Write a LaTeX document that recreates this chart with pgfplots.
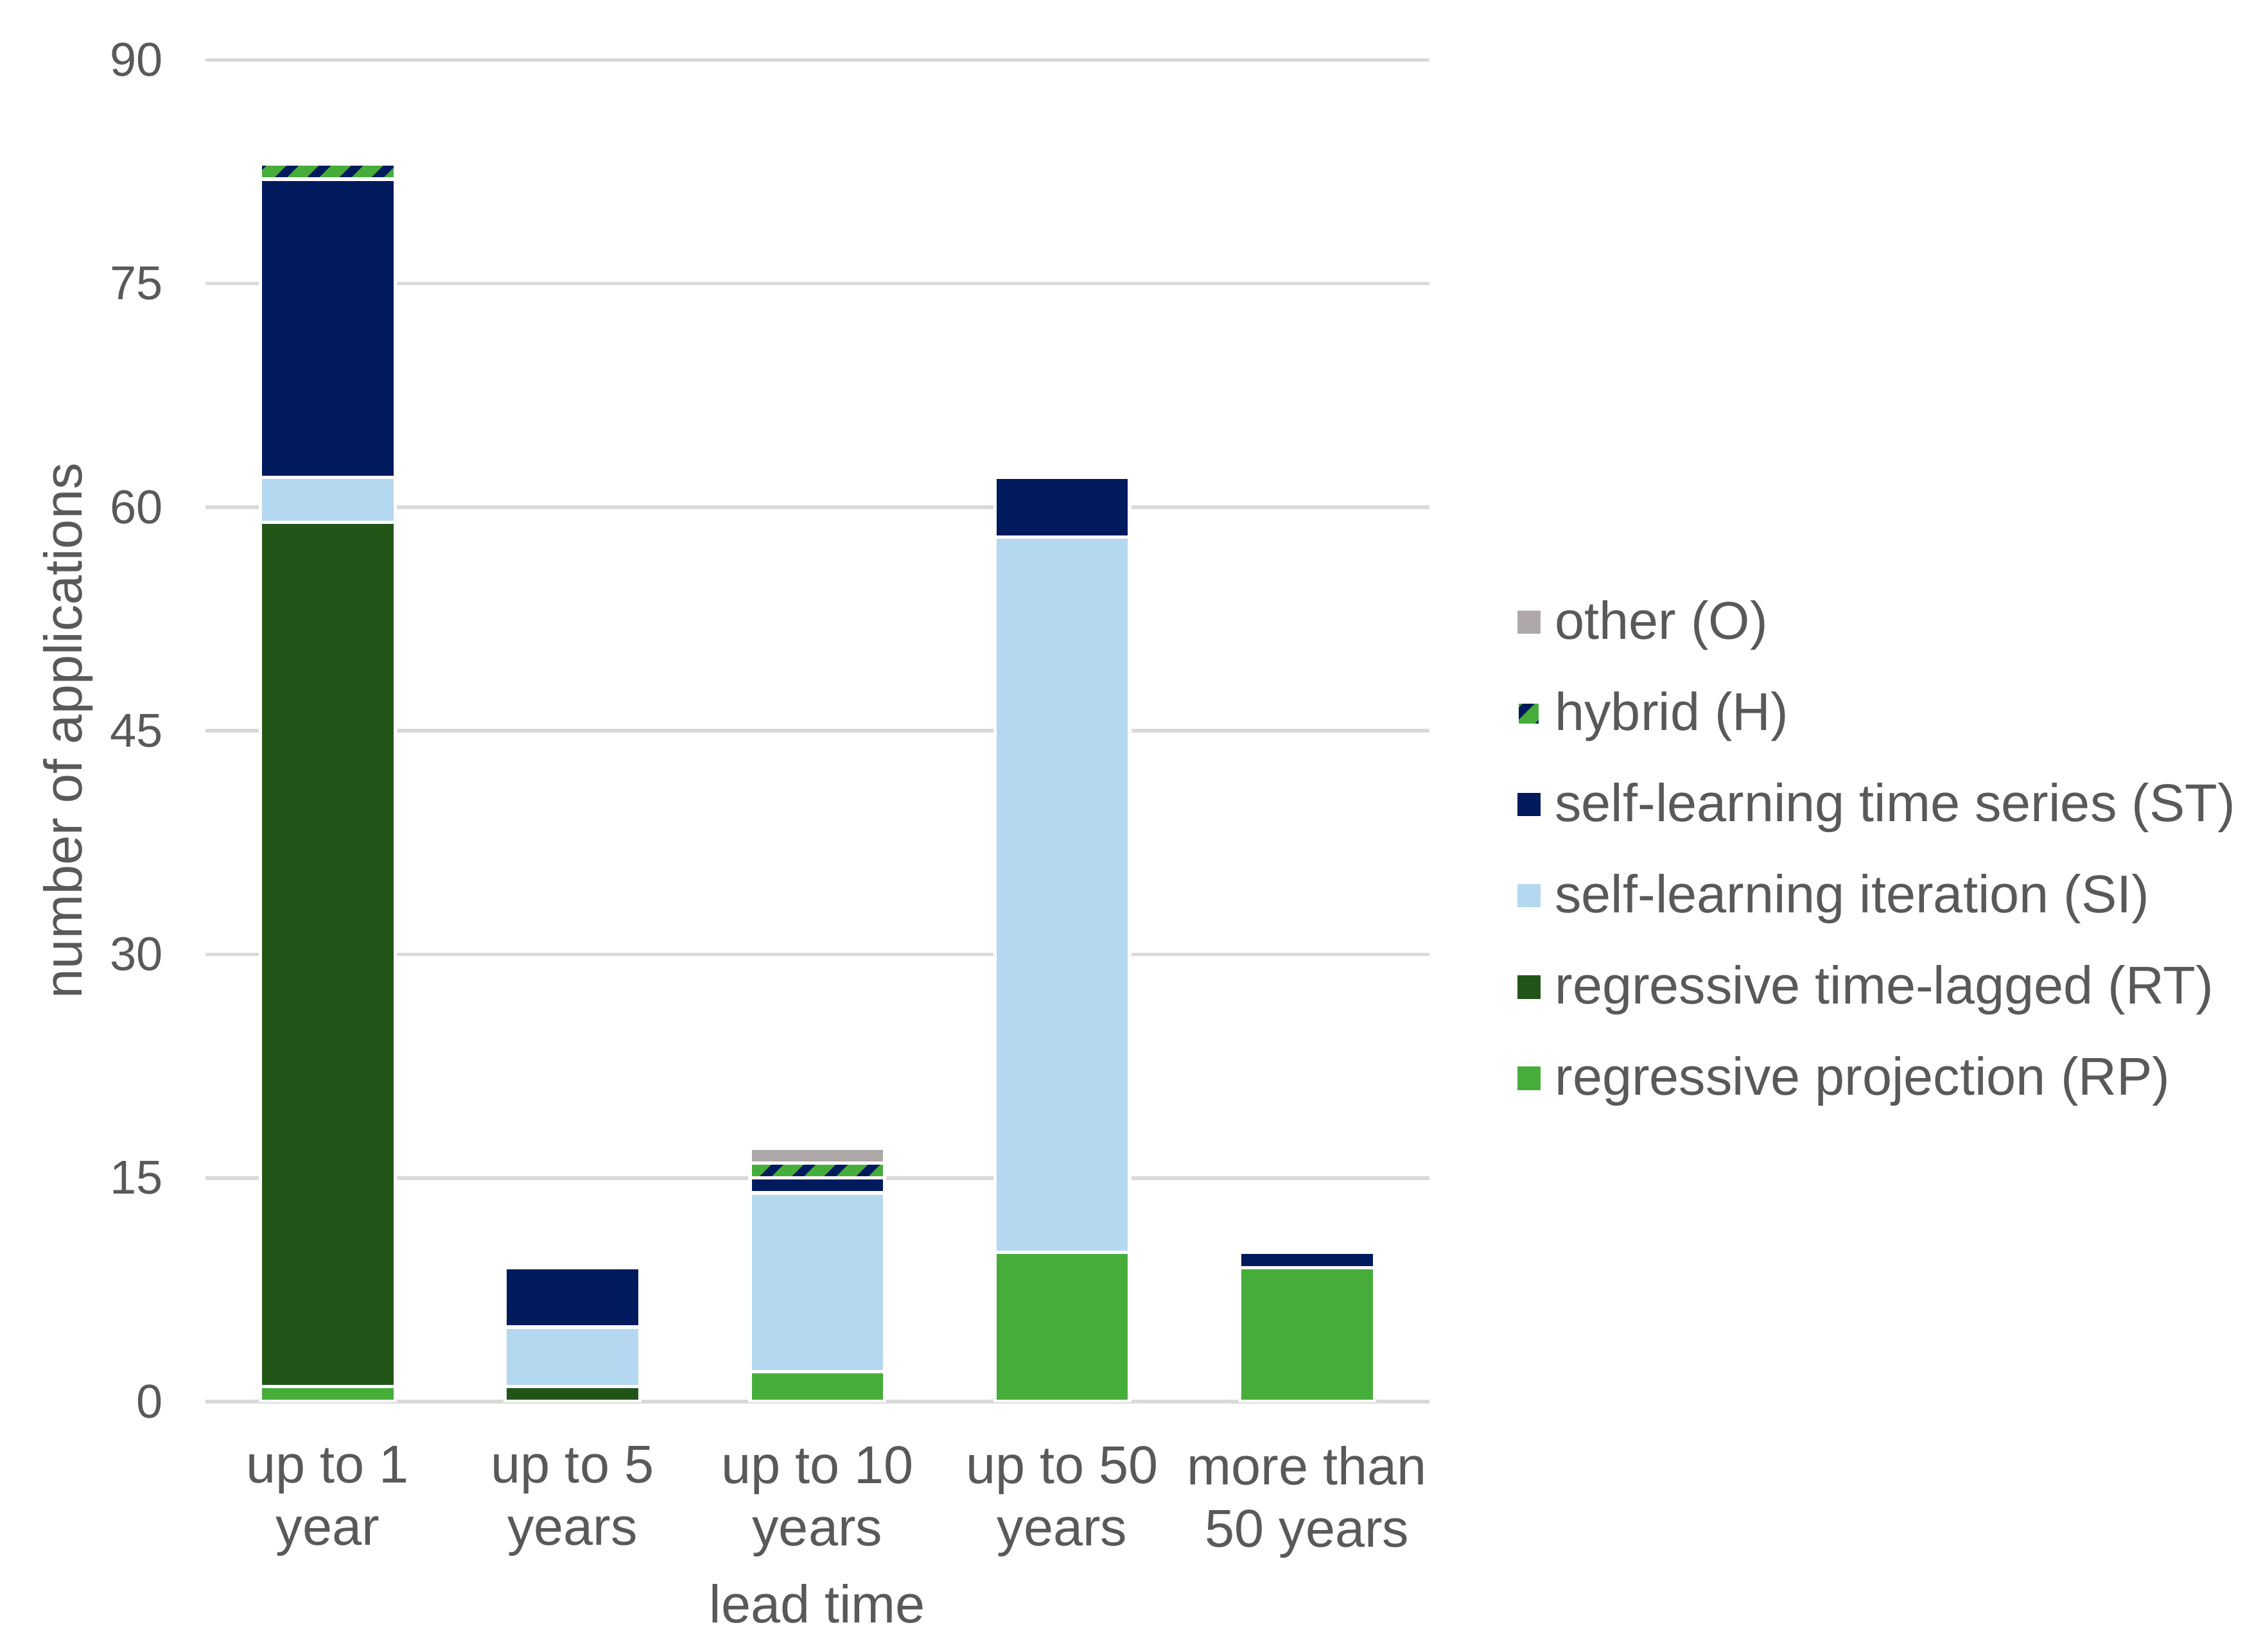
\documentclass[border=0pt]{standalone}
\usepackage{fontspec}
\setmainfont{Liberation Sans}
\usepackage{pgfplots}
\usepackage{pgfplotstable}
\pgfplotsset{compat=1.18}
\usetikzlibrary{patterns.meta}

\definecolor{rpgreen}{HTML}{47AD3A}
\definecolor{rtgreen}{HTML}{215518}
\definecolor{siblue}{HTML}{B4D8EF}
\definecolor{stnavy}{HTML}{001A5E}
\definecolor{ogray}{HTML}{AEA9A8}
\definecolor{txtgray}{HTML}{595959}
\definecolor{gridgray}{HTML}{D9D9D9}

% lead time classes at x = 0..4
\pgfplotstableread{
x RP RT SI ST H O
0 1  58 3  20 1 0
1 0  1  4  4  0 0
2 2  0  12 1  1 1
3 10 0  48 4  0 0
4 9  0  0  1  0 0
}\apps

\begin{document}
\begin{tikzpicture}
\begin{axis}[
  at={(0,0)}, anchor=south west,
  scale only axis, width=257.6pt, height=282.4pt,
  xmin=-0.5, xmax=4.5, ymin=0, ymax=90,
  ybar stacked, bar width=0.55,
  xtick={0,1,2,3,4},
  xticklabels={{up to 1\\year},{up to 5\\years},{up to 10\\years},{up to 50\\years},{more than\\50 years}},
  ytick={0,15,...,90},
  ymajorgrids, grid style={line width=0.75pt, gridgray},
  axis line style={draw=none}, tick style={draw=none},
  /pgf/number format/assume math mode=true,
  xticklabel style={align=center, inner sep=0pt, anchor=north, yshift=-9.2pt,
    font=\fontsize{11.2}{13.1}\selectfont, text=txtgray},
  yticklabel style={inner sep=0pt, anchor=east, xshift=-8.7pt,
    font=\fontsize{10}{12}\selectfont, text=txtgray},
  xlabel={lead time},
  xlabel style={at={(axis description cs:0.5,0)}, anchor=base, yshift=-46.5pt,
    font=\fontsize{11.2}{13}\selectfont, text=txtgray},
  ylabel={number of applications},
  ylabel style={at={(axis description cs:-0.1122,0.5)}, anchor=center,
    font=\fontsize{11.2}{13}\selectfont, text=txtgray},
  every axis plot/.append style={draw=white, line width=0.7pt},
  legend image code/.code={
    \draw[#1, draw=none] (0pt,1.1pt) rectangle (4.9pt,6pt);
    \path (7.6pt,0pt);
  },
  reverse legend,
  legend style={at={(1.0703,0.4090)}, anchor=west, draw=none, fill=none,
    inner sep=0pt, outer sep=0pt, row sep=8.2pt,
    nodes={inner sep=0pt, anchor=base west, text height=8.5pt, text depth=2.5pt},
    font=\fontsize{11.2}{13}\selectfont, text=txtgray},
]
\addplot[fill=rpgreen] table[x=x, y=RP] {\apps};
\addplot[fill=rtgreen] table[x=x, y=RT] {\apps};
\addplot[fill=siblue] table[x=x, y=SI] {\apps};
\addplot[fill=stnavy] table[x=x, y=ST] {\apps};
\addplot[fill=rpgreen, postaction={pattern={Lines[angle=45, distance=4.8pt, line width=1.8pt]}, pattern color=stnavy}] table[x=x, y=H] {\apps};
\addplot[fill=ogray] table[x=x, y=O] {\apps};
\legend{regressive projection (RP), regressive time-lagged (RT), self-learning iteration (SI), self-learning time series (ST), hybrid (H), other (O)}
\end{axis}
\pgfresetboundingbox
\path[use as bounding box] (-43.2pt,-52.6pt) rectangle (433.0pt,295.0pt);
\end{tikzpicture}
\end{document}
